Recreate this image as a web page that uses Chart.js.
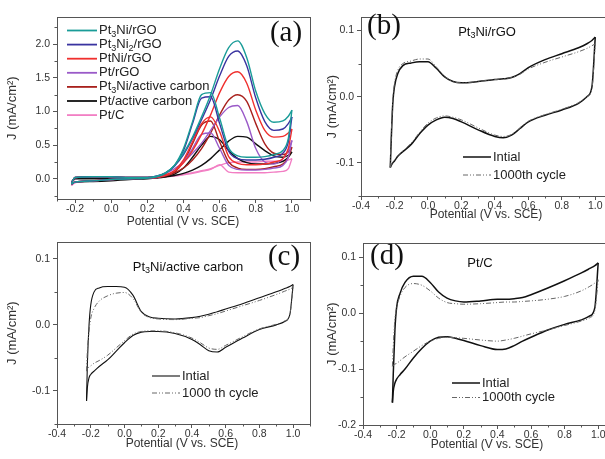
<!DOCTYPE html>
<html>
<head>
<meta charset="utf-8">
<script src="https://cdn.jsdelivr.net/npm/chart.js@4.4.0/dist/chart.umd.min.js"></script>
<style>
  html, body { margin: 0; padding: 0; background: #fff; width: 605px; height: 459px; overflow: hidden; }
  canvas { position: absolute; }
</style>
</head>
<body>
<canvas id="panelA"></canvas>
<canvas id="panelB"></canvas>
<canvas id="panelC"></canvas>
<canvas id="panelD"></canvas>
<script>
// ---- panel (a): oxidation CVs, potential grid shared by all seven loops ----
const aPotential = [-0.22, -0.2, -0.1, 0.0, 0.1, 0.2, 0.25, 0.3, 0.35, 0.4, 0.45, 0.5, 0.55, 0.6, 0.65, 0.7, 0.75, 0.8, 0.85, 0.9, 0.95, 0.98, 1.0];
const aSeries = ['Pt_3Ni/rGO', 'Pt_3Ni_2/rGO', 'PtNi/rGO', 'Pt/rGO', 'Pt_3Ni/active carbon', 'Pt/active carbon', 'Pt/C'];
const aColors = ['#1a9c98', '#3a34a0', '#f0302e', '#9a5ac8', '#a8201c', '#101010', '#f27fc4'];

const pt3niRgoFwd   = [-0.07, 0.02, 0.03, 0.03, 0.02, 0.02, 0.04, 0.09, 0.20, 0.38, 0.62, 0.92, 1.25, 1.64, 1.95, 2.05, 1.80, 1.30, 0.97, 0.84, 0.86, 0.93, 1.02];
const pt3niRgoRev   = [-0.08, -0.05, -0.03, -0.01, 0.0, 0.01, 0.03, 0.08, 0.20, 0.45, 0.85, 1.25, 1.28, 0.90, 0.46, 0.34, 0.32, 0.32, 0.33, 0.36, 0.42, 0.60, 1.02];
const pt3ni2RgoFwd  = [-0.06, 0.02, 0.03, 0.03, 0.02, 0.02, 0.04, 0.09, 0.19, 0.36, 0.60, 0.88, 1.18, 1.53, 1.82, 1.90, 1.68, 1.20, 0.85, 0.72, 0.74, 0.82, 0.92];
const pt3ni2RgoRev  = [-0.08, -0.05, -0.03, -0.01, 0.0, 0.01, 0.03, 0.08, 0.19, 0.42, 0.82, 1.20, 1.22, 0.82, 0.41, 0.30, 0.28, 0.28, 0.29, 0.32, 0.38, 0.55, 0.92];
const ptniRgoFwd    = [-0.06, 0.02, 0.03, 0.03, 0.02, 0.02, 0.03, 0.06, 0.12, 0.24, 0.42, 0.66, 0.95, 1.28, 1.52, 1.59, 1.42, 1.02, 0.72, 0.62, 0.63, 0.68, 0.74];
const ptniRgoRev    = [-0.08, -0.05, -0.03, -0.01, 0.0, 0.01, 0.02, 0.05, 0.12, 0.28, 0.55, 0.82, 0.92, 0.70, 0.33, 0.23, 0.21, 0.21, 0.22, 0.25, 0.30, 0.45, 0.74];
const ptRgoFwd      = [-0.06, 0.02, 0.03, 0.03, 0.02, 0.02, 0.04, 0.08, 0.15, 0.25, 0.38, 0.53, 0.72, 0.92, 1.06, 1.09, 0.85, 0.45, 0.25, 0.22, 0.30, 0.42, 0.57];
const ptRgoRev      = [-0.08, -0.05, -0.03, -0.01, 0.0, 0.01, 0.02, 0.05, 0.12, 0.25, 0.45, 0.66, 0.68, 0.45, 0.20, 0.14, 0.13, 0.13, 0.14, 0.16, 0.20, 0.32, 0.57];
const pt3niAcFwd    = [-0.06, 0.02, 0.03, 0.03, 0.02, 0.02, 0.03, 0.05, 0.09, 0.16, 0.28, 0.45, 0.68, 0.95, 1.17, 1.25, 1.15, 0.82, 0.52, 0.38, 0.36, 0.40, 0.47];
const pt3niAcRev    = [-0.08, -0.05, -0.03, -0.01, 0.0, 0.01, 0.02, 0.04, 0.10, 0.25, 0.52, 0.80, 0.86, 0.55, 0.25, 0.16, 0.14, 0.14, 0.15, 0.18, 0.22, 0.32, 0.47];
const ptAcFwd       = [-0.05, 0.0, 0.0, 0.0, 0.0, 0.01, 0.02, 0.03, 0.05, 0.08, 0.13, 0.20, 0.30, 0.43, 0.56, 0.63, 0.62, 0.52, 0.42, 0.34, 0.32, 0.35, 0.40];
const ptAcRev       = [-0.08, -0.05, -0.04, -0.03, -0.01, 0.0, 0.01, 0.03, 0.07, 0.16, 0.32, 0.50, 0.63, 0.58, 0.42, 0.30, 0.24, 0.22, 0.22, 0.23, 0.26, 0.32, 0.40];
const ptcFwd        = [-0.10, 0.0, 0.02, 0.02, 0.02, 0.02, 0.03, 0.04, 0.05, 0.07, 0.09, 0.12, 0.15, 0.20, 0.24, 0.25, 0.25, 0.25, 0.26, 0.26, 0.27, 0.28, 0.30];
const ptcRev        = [-0.10, -0.06, -0.03, -0.01, 0.0, 0.01, 0.02, 0.03, 0.04, 0.06, 0.08, 0.11, 0.14, 0.21, 0.10, 0.09, 0.09, 0.09, 0.09, 0.10, 0.11, 0.15, 0.30];
const aFwd = [pt3niRgoFwd, pt3ni2RgoFwd, ptniRgoFwd, ptRgoFwd, pt3niAcFwd, ptAcFwd, ptcFwd];
const aRev = [pt3niRgoRev, pt3ni2RgoRev, ptniRgoRev, ptRgoRev, pt3niAcRev, ptAcRev, ptcRev];

// ---- panels (b)-(d): blank CVs, initial vs 1000th cycle ----
const cvPotential = [-0.225, -0.22, -0.21, -0.2, -0.18, -0.15, -0.1, -0.05, 0.0, 0.05, 0.1, 0.15, 0.2, 0.3, 0.4, 0.45, 0.5, 0.55, 0.6, 0.7, 0.8, 0.9, 0.95, 0.98, 1.0];

const bInitFwd = [-0.107, -0.07, -0.01, 0.015, 0.035, 0.047, 0.051, 0.053, 0.053, 0.043, 0.030, 0.023, 0.021, 0.023, 0.026, 0.027, 0.029, 0.035, 0.044, 0.056, 0.065, 0.074, 0.080, 0.085, 0.090];
const bInitRev = [-0.107, -0.104, -0.100, -0.097, -0.090, -0.083, -0.072, -0.056, -0.043, -0.035, -0.031, -0.033, -0.038, -0.050, -0.060, -0.062, -0.058, -0.048, -0.038, -0.028, -0.020, -0.010, 0.0, 0.015, 0.090];
const bCycFwd  = [-0.107, -0.065, -0.005, 0.020, 0.040, 0.050, 0.054, 0.057, 0.057, 0.045, 0.031, 0.023, 0.021, 0.023, 0.026, 0.027, 0.029, 0.034, 0.042, 0.052, 0.060, 0.068, 0.073, 0.077, 0.080];
const bCycRev  = [-0.107, -0.103, -0.099, -0.096, -0.089, -0.082, -0.070, -0.054, -0.040, -0.032, -0.029, -0.031, -0.035, -0.047, -0.058, -0.060, -0.057, -0.047, -0.037, -0.027, -0.019, -0.009, 0.0, 0.012, 0.080];

const cInitFwd = [-0.115, -0.06, 0.0, 0.030, 0.050, 0.056, 0.058, 0.058, 0.057, 0.045, 0.020, 0.012, 0.010, 0.009, 0.011, 0.013, 0.016, 0.020, 0.024, 0.032, 0.041, 0.050, 0.055, 0.058, 0.061];
const cInitRev = [-0.115, -0.095, -0.080, -0.075, -0.070, -0.063, -0.053, -0.040, -0.027, -0.016, -0.011, -0.010, -0.010, -0.013, -0.022, -0.030, -0.039, -0.041, -0.034, -0.020, -0.007, 0.0, 0.005, 0.015, 0.061];
const cCycFwd  = [-0.070, -0.040, -0.010, 0.010, 0.025, 0.036, 0.044, 0.048, 0.049, 0.040, 0.019, 0.011, 0.009, 0.008, 0.010, 0.011, 0.014, 0.017, 0.021, 0.029, 0.037, 0.046, 0.051, 0.054, 0.057];
const cCycRev  = [-0.070, -0.066, -0.064, -0.062, -0.058, -0.054, -0.046, -0.035, -0.024, -0.014, -0.010, -0.009, -0.009, -0.012, -0.020, -0.027, -0.035, -0.037, -0.031, -0.018, -0.006, 0.001, 0.006, 0.015, 0.057];

const dInitFwd = [-0.160, -0.110, -0.030, 0.010, 0.035, 0.055, 0.066, 0.066, 0.055, 0.038, 0.027, 0.022, 0.020, 0.022, 0.025, 0.025, 0.026, 0.028, 0.033, 0.045, 0.058, 0.072, 0.080, 0.085, 0.090];
const dInitRev = [-0.160, -0.140, -0.125, -0.118, -0.110, -0.100, -0.080, -0.063, -0.050, -0.043, -0.042, -0.045, -0.049, -0.058, -0.065, -0.064, -0.058, -0.050, -0.043, -0.030, -0.020, -0.012, -0.005, 0.010, 0.090];
const dCycFwd  = [-0.095, -0.060, -0.010, 0.010, 0.030, 0.046, 0.053, 0.050, 0.040, 0.027, 0.019, 0.017, 0.016, 0.017, 0.019, 0.020, 0.020, 0.021, 0.022, 0.025, 0.030, 0.040, 0.048, 0.054, 0.060];
const dCycRev  = [-0.095, -0.093, -0.091, -0.090, -0.085, -0.078, -0.068, -0.058, -0.050, -0.045, -0.043, -0.044, -0.045, -0.048, -0.050, -0.048, -0.045, -0.041, -0.037, -0.030, -0.022, -0.014, -0.008, 0.005, 0.060];

// tick labels
const aXTicks = [-0.2, 0.0, 0.2, 0.4, 0.6, 0.8, 1.0];
const aYTicks = [0.0, 0.5, 1.0, 1.5, 2.0];
const cvXTicks = [-0.4, -0.2, 0.0, 0.2, 0.4, 0.6, 0.8, 1.0];
const bYTicks = [-0.1, 0.0, 0.1];
const cYTicks = [-0.1, 0.0, 0.1];
const dYTicks = [-0.2, -0.1, 0.0, 0.1];

const X_TITLE = 'Potential (V vs. SCE)';
const Y_TITLE = 'J (mA/cm²)';

const FONT = '"Liberation Sans", Arial, Helvetica, sans-serif';
const SERIF = '"Liberation Serif", "Times New Roman", serif';
const AXIS = '#555';
const TEXT = '#333';
const CYCLE_DASH = [5, 2, 1, 2, 1, 2];

function pts(pot, vals) {
  return pot.map((e, i) => ({x: e, y: vals[i]}));
}

function line(pot, vals, color, width, dash) {
  return {
    data: pts(pot, vals), showLine: true, borderColor: color, borderWidth: width,
    borderDash: dash || [], pointRadius: 0, fill: false, cubicInterpolationMode: 'monotone'
  };
}

// text with "_3" style subscripts
function richText(ctx, text, x, y, size, align) {
  const parts = text.split(/(_\d)/).filter(p => p);
  const small = Math.round(size * 0.72);
  const fontOf = sub => (sub ? small : size) + 'px ' + FONT;
  let w = 0;
  parts.forEach(p => {
    const sub = p[0] === '_';
    ctx.font = fontOf(sub);
    w += ctx.measureText(sub ? p.slice(1) : p).width;
  });
  let cx = align === 'center' ? x - w / 2 : x;
  ctx.textAlign = 'left';
  ctx.textBaseline = 'middle';
  parts.forEach(p => {
    const sub = p[0] === '_';
    const t = sub ? p.slice(1) : p;
    ctx.font = fontOf(sub);
    ctx.fillText(t, cx, sub ? y + size * 0.3 : y);
    cx += ctx.measureText(t).width;
  });
}

function drawDecor(chart, cfg) {
  const ctx = chart.ctx, a = chart.chartArea;
  ctx.save();
  ctx.strokeStyle = AXIS;
  ctx.lineWidth = 1;
  ctx.setLineDash([]);
  ctx.strokeRect(Math.round(a.left) + 0.5, Math.round(a.top) + 0.5, Math.round(a.right - a.left), Math.round(a.bottom - a.top));

  // minor ticks halfway between the labelled ones
  ['x', 'y'].forEach(key => {
    const s = chart.scales[key];
    const vals = s.ticks.map(t => t.value);
    const step = vals[1] - vals[0];
    for (let v = vals[0] - step / 2; v <= s.max + 1e-9; v += step) {
      if (v < s.min - 1e-9) continue;
      const p = Math.round(s.getPixelForValue(v)) + 0.5;
      ctx.beginPath();
      if (key === 'x') { ctx.moveTo(p, a.bottom); ctx.lineTo(p, a.bottom + 2.5); }
      else { ctx.moveTo(a.left, p); ctx.lineTo(a.left - 2.5, p); }
      ctx.stroke();
    }
  });

  // axis titles
  ctx.fillStyle = TEXT;
  ctx.textAlign = 'center';
  ctx.textBaseline = 'middle';
  ctx.font = '12px ' + FONT;
  ctx.fillText(X_TITLE, cfg.xTitle[0] - cfg.left, cfg.xTitle[1] - cfg.top);
  ctx.save();
  ctx.translate(cfg.yTitleX - cfg.left, (a.top + a.bottom) / 2);
  ctx.rotate(-Math.PI / 2);
  ctx.font = '13px ' + FONT;
  ctx.fillText(Y_TITLE, 0, 0);
  ctx.restore();

  ctx.fillStyle = '#111';
  cfg.notes.forEach(n => {
    if (n.serif) {
      ctx.font = n.size + 'px ' + SERIF;
      ctx.textAlign = 'center';
      ctx.textBaseline = 'middle';
      ctx.fillText(n.text, n.x - cfg.left, n.y - cfg.top);
    } else {
      richText(ctx, n.text, n.x - cfg.left, n.y - cfg.top, n.size, 'center');
    }
  });

  const lg = cfg.legend;
  lg.items.forEach((it, i) => {
    const y = lg.y + i * lg.dy - cfg.top;
    ctx.beginPath();
    ctx.strokeStyle = it.color;
    ctx.lineWidth = it.width;
    ctx.setLineDash(it.dash || []);
    ctx.moveTo(lg.x - cfg.left, y);
    ctx.lineTo(lg.x + lg.len - cfg.left, y);
    ctx.stroke();
    ctx.setLineDash([]);
    ctx.fillStyle = '#222';
    richText(ctx, it.label, lg.x + lg.len + 2 - cfg.left, y, lg.size, 'left');
  });
  ctx.restore();
}

function makePanel(id, cfg) {
  const el = document.getElementById(id);
  el.style.left = cfg.left + 'px';
  el.style.top = cfg.top + 'px';
  el.width = cfg.width;
  el.height = cfg.height;
  const tickFont = {family: FONT, size: 10.5};
  return new Chart(el, {
    type: 'scatter',
    data: {datasets: cfg.datasets},
    options: {
      responsive: false,
      animation: false,
      devicePixelRatio: 1,
      layout: {padding: {top: cfg.padTop, right: cfg.padRight, left: 0, bottom: 0}},
      elements: {line: {borderJoinStyle: 'round'}},
      plugins: {legend: {display: false}, tooltip: {enabled: false}},
      scales: {
        x: {
          type: 'linear', min: cfg.xMin, max: cfg.xMax,
          afterFit: s => { s.height = cfg.xAxisHeight; },
          afterBuildTicks: s => { s.ticks = cfg.xTicks.map(v => ({value: v})); },
          ticks: {callback: v => v.toFixed(1), font: tickFont, color: TEXT, padding: 0, maxRotation: 0, autoSkip: false},
          grid: {drawOnChartArea: false, tickLength: 4, color: AXIS},
          border: {color: AXIS}
        },
        y: {
          type: 'linear', min: cfg.yMin, max: cfg.yMax,
          afterFit: s => { s.width = cfg.yAxisWidth; },
          afterBuildTicks: s => { s.ticks = cfg.yTicks.map(v => ({value: v})); },
          ticks: {callback: v => v.toFixed(1), font: tickFont, color: TEXT, padding: 3, autoSkip: false},
          grid: {drawOnChartArea: false, tickLength: 4, color: AXIS},
          border: {color: AXIS}
        }
      }
    },
    plugins: [{id: 'decor', afterDraw: chart => drawDecor(chart, cfg)}]
  });
}

function cvDatasets(initF, initR, cycF, cycR, solidW) {
  return [
    line(cvPotential, cycF, '#666', 1, CYCLE_DASH),
    line(cvPotential, cycR, '#666', 1, CYCLE_DASH),
    line(cvPotential, initF, '#111', solidW),
    line(cvPotential, initR, '#111', solidW)
  ];
}

function cvLegend(x, y, dy, cycLabel, solidW) {
  return {
    x: x, y: y, dy: dy, len: 28, size: 13,
    items: [
      {label: 'Intial', color: '#111', width: solidW},
      {label: cycLabel, color: '#666', width: 1, dash: CYCLE_DASH}
    ]
  };
}

const aDatasets = [];
aSeries.forEach((name, i) => {
  aDatasets.push(line(aPotential, aFwd[i], aColors[i], 1.4));
  aDatasets.push(line(aPotential, aRev[i], aColors[i], 1.4));
});

makePanel('panelA', {
  left: 0, top: 8, width: 320, height: 222, padTop: 5, padRight: 10,
  yAxisWidth: 57, xAxisHeight: 31,
  xMin: -0.3, xMax: 1.1, yMin: -0.3, yMax: 2.4, xTicks: aXTicks, yTicks: aYTicks,
  datasets: aDatasets,
  xTitle: [183, 222], yTitleX: 12,
  notes: [{text: '(a)', x: 286, y: 33, size: 29, serif: true}],
  legend: {
    x: 67, y: 30.5, dy: 14.1, len: 30, size: 13,
    items: aSeries.map((s, i) => ({label: s, color: aColors[i], width: 1.8}))
  }
});

makePanel('panelB', {
  left: 305, top: 8, width: 320, height: 218, padTop: 5, padRight: 13,
  yAxisWidth: 56, xAxisHeight: 30,
  xMin: -0.4, xMax: 1.1, yMin: -0.15, yMax: 0.12, xTicks: cvXTicks, yTicks: bYTicks,
  datasets: cvDatasets(bInitFwd, bInitRev, bCycFwd, bCycRev, 1.5),
  xTitle: [486, 215], yTitleX: 332,
  notes: [{text: '(b)', x: 384, y: 26, size: 29, serif: true}, {text: 'Pt_3Ni/rGO', x: 487, y: 32, size: 13}],
  legend: cvLegend(463, 157, 18, '1000th cycle', 1.5)
});

makePanel('panelC', {
  left: 0, top: 233, width: 320, height: 221, padTop: 5, padRight: 10,
  yAxisWidth: 57, xAxisHeight: 30,
  xMin: -0.4, xMax: 1.1, yMin: -0.15, yMax: 0.125, xTicks: cvXTicks, yTicks: cYTicks,
  datasets: cvDatasets(cInitFwd, cInitRev, cCycFwd, cCycRev, 1.1),
  xTitle: [182, 444], yTitleX: 12,
  notes: [{text: '(c)', x: 284, y: 257, size: 29, serif: true}, {text: 'Pt_3Ni/active carbon', x: 188, y: 267, size: 13}],
  legend: cvLegend(152, 376, 17, '1000 th cycle', 1.1)
});

makePanel('panelD', {
  left: 305, top: 234, width: 320, height: 221, padTop: 5, padRight: 10,
  yAxisWidth: 58, xAxisHeight: 30,
  xMin: -0.4, xMax: 1.1, yMin: -0.2, yMax: 0.125, xTicks: cvXTicks, yTicks: dYTicks,
  datasets: cvDatasets(dInitFwd, dInitRev, dCycFwd, dCycRev, 1.5),
  xTitle: [487, 445], yTitleX: 332,
  notes: [{text: '(d)', x: 387, y: 256, size: 29, serif: true}, {text: 'Pt/C', x: 480, y: 263, size: 13}],
  legend: cvLegend(452, 383, 14.5, '1000th cycle', 1.5)
});
</script>
</body>
</html>
